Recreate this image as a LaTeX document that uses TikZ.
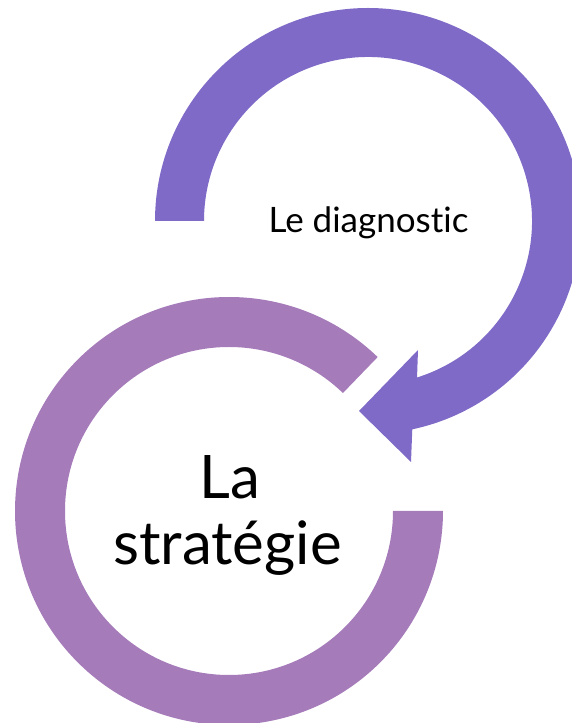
\documentclass[tikz,border=0pt]{standalone}
\usepackage{fontspec}
\usetikzlibrary{calc}
\setmainfont{Lato}[Ligatures={NoCommon,NoRequired,NoContextual}]
\definecolor{topviolet}{RGB}{127,107,199}
\definecolor{ringmauve}{RGB}{165,123,186}
\begin{document}
\begin{tikzpicture}[x=1pt,y=1pt,
  labelsmall/.style={font=\fontsize{35}{42}\selectfont,inner sep=0pt,anchor=base,text=black},
  labelbig/.style={font=\fontsize{60}{66}\selectfont,inner sep=0pt,anchor=base,text=black}]
\useasboundingbox (0,0) rectangle (572,723);
\clip (0,0) rectangle (572,723);
% bottom ring (La strategie)
\coordinate (cb) at (229,212);
\fill[ringmauve] ($(cb)+(46:214)$) arc[start angle=46, end angle=360, radius=214]
  -- ($(cb)+(0:164)$) arc[start angle=360, end angle=46, radius=164] -- cycle;
% top arrow (Le diagnostic)
\coordinate (ct) at (368,502);
\coordinate (barblow) at (411,261);
\coordinate (tip) at (359,312);
\coordinate (barbup) at (418,373);
\fill[topviolet] ($(ct)+(180:213)$) arc[start angle=180, end angle=-78, radius=213]
  -- (barblow) -- (tip) -- (barbup)
  -- ($(ct)+(-72.6:164)$) arc[start angle=-72.6, end angle=180, radius=164] -- cycle;
% texts
\node[labelsmall] (diag) at (368.5,490) {Le diagnos\kern0pt tic};
\node[labelbig] (strat1) at (229.5,224) {La};
\node[labelbig] (strat2) at (227.5,158) {stratégie};
\end{tikzpicture}
\end{document}
